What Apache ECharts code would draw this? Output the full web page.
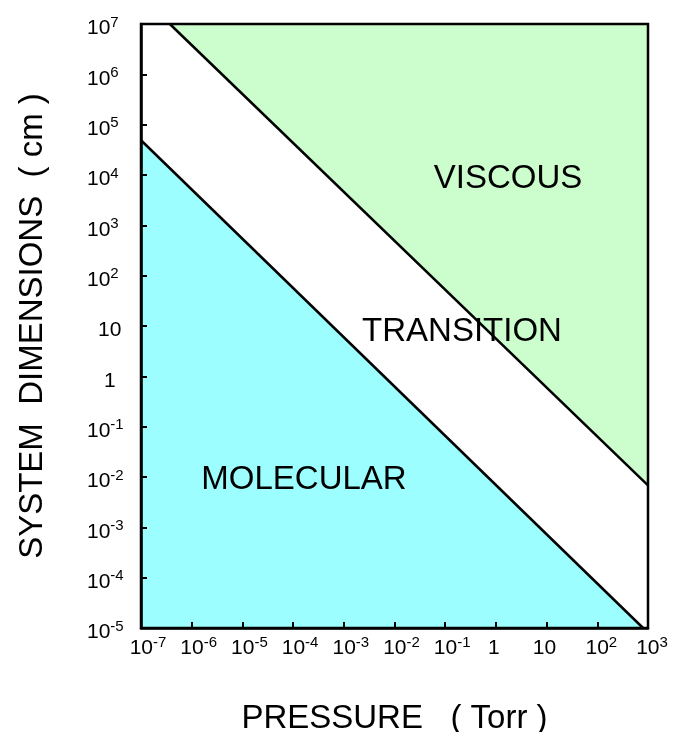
<!DOCTYPE html>
<html>
<head>
<meta charset="utf-8">
<script src="https://cdn.jsdelivr.net/npm/echarts@6/dist/echarts.min.js"></script>
<style>
  html, body { margin: 0; padding: 0; background: #fff; }
  #chart { width: 688px; height: 732px; }
</style>
</head>
<body>
<div id="chart"></div>
<script>
// boundary lines (pressure in Torr, system dimension in cm)
var molecularPressure = [1e-7, 8e2];
var molecularSize     = [4.9e4, 1e-5];
var viscousPressure   = [3.7e-7, 1e3];
var viscousSize       = [1e7, 6.8e-3];

// tick labels: base + superscript
var pressureTicks    = [1e-7, 1e-6, 1e-5, 1e-4, 1e-3, 1e-2, 1e-1, 1, 10, 1e2, 1e3];
var pressureTickBase = ['10', '10', '10', '10', '10', '10', '10', '1', '10', '10', '10'];
var pressureTickExp  = ['-7', '-6', '-5', '-4', '-3', '-2', '-1', '', '', '2', '3'];

var sizeTicks    = [1e-5, 1e-4, 1e-3, 1e-2, 1e-1, 1, 10, 1e2, 1e3, 1e4, 1e5, 1e6, 1e7];
var sizeTickBase = ['10', '10', '10', '10', '10', '1', '10', '10', '10', '10', '10', '10', '10'];
var sizeTickExp  = ['-5', '-4', '-3', '-2', '-1', '', '', '2', '3', '4', '5', '6', '7'];

var regionNames = ['VISCOUS', 'TRANSITION', 'MOLECULAR'];

var FONT = '"Liberation Sans", Arial, Helvetica, sans-serif';

function tickIndex(ticks, v) {
	var lv = Math.log10(v), best = -1, d = 1e9;
	for (var i = 0; i < ticks.length; i++) {
		var dd = Math.abs(Math.log10(ticks[i]) - lv);
		if (dd < d) { d = dd; best = i; }
	}
	return d < 0.01 ? best : -1;
}

// x labels: "10" centred on the tick, exponent hanging right
function pressureLabel(v) {
	var i = tickIndex(pressureTicks, v);
	if (i < 0) return '';
	var ex = pressureTickExp[i];
	var pad = ex === '' ? '' : '{s' + ex.length + '| }';
	return pad + '{b|' + pressureTickBase[i] + '}{e|' + (ex || ' ') + '}';
}

// y labels: left aligned, "1" and "10" shifted right a bit
function sizeLabel(v) {
	var i = tickIndex(sizeTicks, v);
	if (i < 0) return '';
	var base = sizeTickBase[i], ex = sizeTickExp[i];
	var pad = '';
	if (ex === '') pad = base === '1' ? '{p1| }' : '{p10| }';
	return pad + '{b|' + base + '}{e|' + (ex || ' ') + '}';
}

var labelRich = {
	b:   { fontSize: 21, fontFamily: FONT, color: '#000', verticalAlign: 'bottom', lineHeight: 21 },
	e:   { fontSize: 15, fontFamily: FONT, color: '#000', verticalAlign: 'bottom', lineHeight: 15, padding: [0, 0, 9, 0] },
	s1:  { width: 8 },
	s2:  { width: 14 },
	p1:  { width: 17 },
	p10: { width: 11 }
};

function toPairs(xs, ys) {
	var out = [];
	for (var i = 0; i < xs.length; i++) out.push([xs[i], ys[i]]);
	return out;
}

var chart = echarts.init(document.getElementById('chart'), null, { renderer: 'canvas' });

var option = {
	backgroundColor: '#ffffff',
	animation: false,
	grid: {
		left: 141, right: 40, top: 24, bottom: 104,
		containLabel: false, outerBoundsMode: 'none',
		show: true, borderColor: '#000', borderWidth: 2.5, z: 10
	},
	xAxis: {
		type: 'log', logBase: 10, min: 1e-7, max: 1e3, interval: 1,
		z: 10,
		name: 'PRESSURE   ( Torr )', nameLocation: 'middle', nameGap: 74,
		nameTextStyle: { fontSize: 33, fontFamily: FONT, color: '#000' },
		axisLine: { show: true, lineStyle: { color: '#000', width: 2.5 } },
		axisTick: { show: true, inside: true, length: 6, lineStyle: { color: '#000', width: 2 } },
		axisLabel: { margin: 10, fontSize: 21, fontFamily: FONT, color: '#000', formatter: pressureLabel, rich: labelRich, showMinLabel: true, showMaxLabel: true, hideOverlap: false },
		splitLine: { show: false },
		minorTick: { show: false }
	},
	yAxis: {
		type: 'log', logBase: 10, min: 1e-5, max: 1e7, interval: 1,
		z: 10,
		name: 'SYSTEM  DIMENSIONS  ( cm )', nameLocation: 'middle', nameGap: 92, nameRotate: 90,
		nameTextStyle: { fontSize: 33, fontFamily: FONT, color: '#000' },
		axisLine: { show: true, lineStyle: { color: '#000', width: 2.5 } },
		axisTick: { show: true, inside: true, length: 6, lineStyle: { color: '#000', width: 2 } },
		axisLabel: { margin: 54, align: 'left', padding: [9, 0, 0, 0], fontSize: 21, fontFamily: FONT, color: '#000', formatter: sizeLabel, rich: labelRich, showMinLabel: true, showMaxLabel: true, hideOverlap: false },
		splitLine: { show: false },
		minorTick: { show: false }
	},
	series: [
		{
			name: 'viscous', type: 'line', symbol: 'none', z: 2,
			data: toPairs(viscousPressure, viscousSize),
			lineStyle: { color: '#000', width: 2.5 },
			areaStyle: { color: '#ccfdcc', opacity: 1, origin: 'end' }
		},
		{
			name: 'molecular', type: 'line', symbol: 'none', z: 2,
			data: toPairs(molecularPressure, molecularSize),
			lineStyle: { color: '#000', width: 2.5 },
			areaStyle: { color: '#9dfeff', opacity: 1, origin: 'start' }
		}
	],
	graphic: [
		{ type: 'text', x: 508, y: 179, z: 20,
		  style: { text: regionNames[0], font: '33px ' + FONT, fill: '#000', align: 'center', verticalAlign: 'middle', textAlign: 'center', textVerticalAlign: 'middle' } },
		{ type: 'text', x: 462, y: 332, z: 20,
		  style: { text: regionNames[1], font: '33px ' + FONT, fill: '#000', align: 'center', verticalAlign: 'middle', textAlign: 'center', textVerticalAlign: 'middle' } },
		{ type: 'text', x: 304, y: 480, z: 20,
		  style: { text: regionNames[2], font: '33px ' + FONT, fill: '#000', align: 'center', verticalAlign: 'middle', textAlign: 'center', textVerticalAlign: 'middle' } }
	]
};

chart.setOption(option);
</script>
</body>
</html>
